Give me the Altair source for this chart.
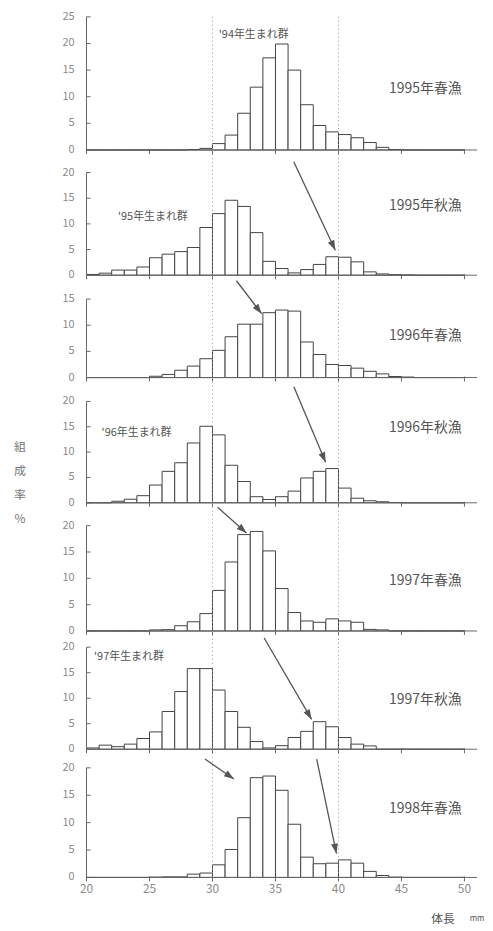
import math
import altair as alt
import pandas as pd

# ---------------- data ----------------
lengths = list(range(20, 50))            # left edge of each 1 mm class
x_ticks = [20, 25, 30, 35, 40, 45, 50]
guide_lines = [30, 40]

seasons = ["1995年春漁", "1995年秋漁", "1996年春漁", "1996年秋漁",
           "1997年春漁", "1997年秋漁", "1998年春漁"]

pct_1995_spring = [0, 0, 0, 0, 0, 0, 0, 0, 0.1, 0.3,
                   1.2, 2.8, 6.9, 11.8, 17.3, 19.9, 15.0, 8.5, 4.6, 3.4,
                   2.9, 2.3, 1.4, 0.5, 0.1, 0, 0, 0, 0, 0]
pct_1995_autumn = [0.15, 0.4, 1.0, 1.0, 1.6, 3.4, 4.1, 4.6, 5.4, 9.3,
                   12.0, 14.6, 13.4, 8.3, 2.7, 1.3, 0.45, 1.1, 2.1, 3.6,
                   3.5, 2.6, 0.65, 0.25, 0.1, 0.05, 0, 0, 0, 0]
pct_1996_spring = [0, 0, 0, 0, 0, 0.25, 0.6, 1.4, 2.2, 3.6,
                   5.2, 7.8, 10.2, 10.2, 12.4, 12.9, 12.7, 6.8, 4.4, 2.5,
                   2.3, 1.8, 1.2, 0.7, 0.2, 0.1, 0, 0, 0, 0]
pct_1996_autumn = [0, 0, 0.3, 0.7, 1.4, 3.5, 6.2, 7.9, 11.8, 15.1,
                   13.4, 7.4, 4.2, 1.2, 0.65, 1.2, 2.3, 4.9, 6.2, 6.75,
                   2.9, 0.9, 0.4, 0.2, 0.05, 0, 0, 0, 0, 0]
pct_1997_spring = [0, 0, 0, 0, 0, 0.2, 0.25, 1.0, 1.75, 3.3,
                   7.7, 13.1, 18.3, 18.9, 15.2, 8.05, 3.5, 1.9, 1.65, 2.3,
                   1.9, 1.65, 0.3, 0.2, 0, 0, 0, 0, 0, 0]
pct_1997_autumn = [0.25, 0.8, 0.5, 1.0, 2.1, 3.4, 7.4, 11.3, 15.8, 15.8,
                   11.6, 7.4, 4.3, 1.5, 0.25, 0.7, 2.3, 3.5, 5.4, 4.4,
                   2.3, 1.0, 0.65, 0, 0, 0, 0, 0, 0, 0]
pct_1998_spring = [0, 0, 0, 0, 0, 0.05, 0.1, 0.1, 0.6, 0.8,
                   2.3, 5.1, 10.9, 18.2, 18.5, 15.9, 9.7, 3.7, 2.5, 2.6,
                   3.2, 2.6, 1.1, 0.35, 0.05, 0, 0, 0, 0, 0]
all_pct = [pct_1995_spring, pct_1995_autumn, pct_1996_spring, pct_1996_autumn,
           pct_1997_spring, pct_1997_autumn, pct_1998_spring]

top_ticks = [25, 20, 15, 20, 20, 20, 20]

season_label_x = 46.9
season_label_y = [11.4, 13.4, 8.0, 14.8, 9.4, 9.7, 12.5]

cohort_panel = [0, 1, 3, 5]
cohort_text = ["'94年生まれ群", "'95年生まれ群", "'96年生まれ群", "'97年生まれ群"]
cohort_x = [30.5, 22.5, 21.2, 20.6]
cohort_y = [21.5, 11.4, 13.8, 18.1]

arrow_panel = [1, 2, 3, 4, 5, 6, 6]
arrow_x1 = [36.45, 31.9, 36.46, 30.4, 34.1, 29.4, 38.27]
arrow_y1 = [22.1, 18.5, 22.9, 23.5, 21.8, 21.6, 21.6]
arrow_x2 = [39.75, 33.9, 38.98, 32.7, 37.87, 31.7, 39.84]
arrow_y2 = [4.85, 12.2, 8.0, 18.6, 5.84, 17.95, 4.35]

# ---------------- layout / style ----------------
FONT = "Noto Sans CJK JP"
W = 393
SPACING = 16
tick_px = [134, 103.3, 79, 102, 106, 102.7, 110.3]   # px spanned by 0..top tick
heights = [134, 110, 87, 110, 113, 103, 113]           # plot heights
px_per_mm = W / 31.0
TEXT_C = "#555555"
AXIS_C = "#666666"
LABEL_C = "#8a8a8a"
BAR_C = "#444444"
ARROW_C = "#555555"
HEAD = "M0,0L-0.7,2L0.7,2Z"


def panel(i):
    T = top_ticks[i]
    h = heights[i]
    dmax = T * h / tick_px[i]
    k = tick_px[i] / T
    last = i == len(seasons) - 1
    xs = alt.Scale(domain=[20, 51], nice=False, zero=False, padding=0)
    ys = alt.Scale(domain=[0, dmax], nice=False, zero=False, padding=0)
    y_vals = list(range(0, T + 1, 5))

    # axes are drawn with rules and texts on the shared scales
    def X(f):
        return alt.X(f, scale=xs, axis=None, title=None)

    def Y(f):
        return alt.Y(f, scale=ys, axis=None, title=None)

    df = pd.DataFrame({"start": lengths, "end": [v + 1 for v in lengths],
                       "pct": all_pct[i], "base": [0] * len(lengths)})
    layers = []
    layers.append(alt.Chart(df).mark_bar(fill="white", stroke=BAR_C, strokeWidth=1).encode(
        x=X("start:Q"), x2="end:Q", y=Y("pct:Q"), y2="base:Q"))
    layers.append(alt.Chart(pd.DataFrame({"g": guide_lines})).mark_rule(
        color="#9a9a9a", strokeDash=[1, 3], strokeWidth=1).encode(
        x=X("g:Q"), y=alt.value(0 if i == 0 else -SPACING), y2=alt.value(h)))
    # y axis line, ticks (inward) and labels
    layers.append(alt.Chart(pd.DataFrame({"a": [0], "b": [T]})).mark_rule(
        color=AXIS_C, strokeWidth=1).encode(x=alt.value(0), y=Y("a:Q"), y2="b:Q"))
    layers.append(alt.Chart(pd.DataFrame({"t": y_vals})).mark_rule(
        color=AXIS_C, strokeWidth=1).encode(x=alt.value(0), x2=alt.value(4), y=Y("t:Q")))
    layers.append(alt.Chart(pd.DataFrame({"t": y_vals})).mark_text(
        font=FONT, fontSize=11, color=LABEL_C, align="right", baseline="middle").encode(
        x=alt.value(-12), y=Y("t:Q"), text=alt.Text("t:Q", format="d")))
    # x axis line, ticks and (bottom panel only) labels
    layers.append(alt.Chart(pd.DataFrame({"a": [0]})).mark_rule(
        color=AXIS_C, strokeWidth=1).encode(x=alt.value(0), x2=alt.value(W), y=Y("a:Q")))
    layers.append(alt.Chart(pd.DataFrame({"v": x_ticks})).mark_rule(
        color=AXIS_C, strokeWidth=1).encode(x=X("v:Q"), y=alt.value(h - 1), y2=alt.value(h + 4)))
    if last:
        layers.append(alt.Chart(pd.DataFrame({"v": x_ticks})).mark_text(
            font=FONT, fontSize=12, color=LABEL_C, align="center", baseline="top").encode(
            x=X("v:Q"), y=alt.value(h + 7), text=alt.Text("v:Q", format="d")))
    layers.append(alt.Chart(pd.DataFrame({"x": [season_label_x], "y": [season_label_y[i]],
                                          "s": [seasons[i]]})).mark_text(
        font=FONT, fontSize=14, color=TEXT_C, align="center", baseline="middle").encode(
        x=X("x:Q"), y=Y("y:Q"), text="s:N"))
    if i in cohort_panel:
        j = cohort_panel.index(i)
        layers.append(alt.Chart(pd.DataFrame({"x": [cohort_x[j]], "y": [cohort_y[j]],
                                              "s": [cohort_text[j]]})).mark_text(
            font=FONT, fontSize=11, color=TEXT_C, align="left", baseline="middle").encode(
            x=X("x:Q"), y=Y("y:Q"), text="s:N"))
    idx = [n for n, p in enumerate(arrow_panel) if p == i]
    if idx:
        adf = pd.DataFrame({
            "x1": [arrow_x1[n] for n in idx], "y1": [arrow_y1[n] for n in idx],
            "x2": [arrow_x2[n] for n in idx], "y2": [arrow_y2[n] for n in idx],
        })
        adf["ang"] = [
            (math.degrees(math.atan2((r.x2 - r.x1) * px_per_mm, (r.y2 - r.y1) * k)) + 360) % 360
            for r in adf.itertuples()
        ]
        layers.append(alt.Chart(adf).mark_rule(color=ARROW_C, strokeWidth=1.3).encode(
            x=X("x1:Q"), y=Y("y1:Q"), x2="x2:Q", y2="y2:Q"))
        layers.append(alt.Chart(adf).mark_point(shape=HEAD, filled=True, size=100,
                                                color=ARROW_C, opacity=1).encode(
            x=X("x2:Q"), y=Y("y2:Q"), angle=alt.Angle("ang:Q", scale=None)))
    if i == 3:
        layers.append(alt.Chart(pd.DataFrame({"s": ["組\n成\n率\n%"]})).mark_text(
            font=FONT, fontSize=12, color="#777777", lineBreak="\n", lineHeight=24,
            align="center", baseline="middle").encode(
            x=alt.value(-67), y=alt.value(54), text="s:N"))
    if last:
        layers.append(alt.Chart(pd.DataFrame({"x": [48.3, 51.0], "y": [-7.5, -7.5],
                                              "s": ["体長", "mm"], "fs": [12, 8]})).mark_text(
            font=FONT, color=TEXT_C, align="center", baseline="middle").encode(
            x=X("x:Q"), y=Y("y:Q"), text="s:N", size=alt.Size("fs:Q", scale=None)))
    return alt.layer(*layers).properties(
        width=W, height=h, view=alt.ViewBackground(stroke=None, fill=None))


chart = alt.VConcatChart(
    vconcat=[panel(i) for i in range(len(seasons))],
    spacing=SPACING,
    bounds="flush",
).properties(
    padding={"left": 5, "top": 0, "right": 0, "bottom": 0},
    background="white",
).configure_view(stroke=None)

chart.save("out.html", embed_options={"renderer": "svg", "actions": False})
